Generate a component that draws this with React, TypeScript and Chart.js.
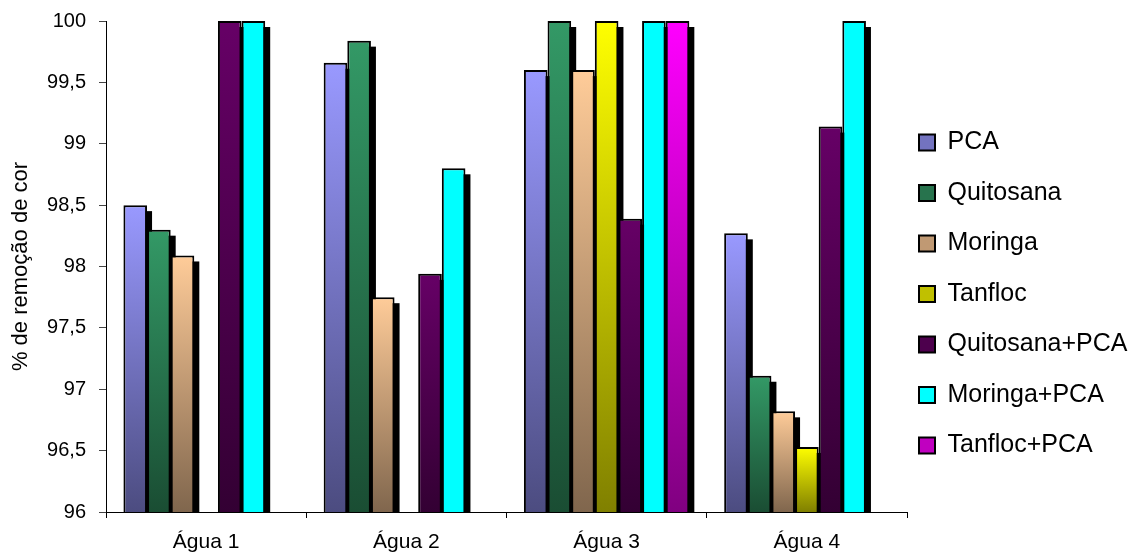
import React, { useEffect, useRef } from 'react';
import { Chart, registerables } from 'chart.js';

Chart.register(...registerables);

// ---------- data ----------
const categories = ['Água 1', 'Água 2', 'Água 3', 'Água 4'];
const seriesNames = ['PCA', 'Quitosana', 'Moringa', 'Tanfloc', 'Quitosana+PCA', 'Moringa+PCA', 'Tanfloc+PCA'];
const pca = [98.5, 99.66, 99.6, 98.27];
const quitosana = [98.3, 99.84, 100, 97.11];
const moringa = [98.09, 97.75, 99.6, 96.82];
const tanfloc = [null, null, 100, 96.53];
const quitosanaPca = [100, 97.94, 98.39, 99.14];
const moringaPca = [100, 98.8, 100, 100];
const tanflocPca = [null, null, 100, null];
const seriesValues = [pca, quitosana, moringa, tanfloc, quitosanaPca, moringaPca, tanflocPca];

const Y_MIN = 96;
const Y_MAX = 100;
const Y_STEP = 0.5;

// ---------- styles ----------
const topColors = ['#9999FF', '#339966', '#FFCC99', '#FFFF00', '#660066', '#00FFFF', '#FF00FF'];
const bottomColors = ['#4C4C80', '#1A4D33', '#80664D', '#808000', '#330033', '#00FFFF', '#800080'];
const legendColors = ['#7373C0', '#27734D', '#C09973', '#C0C000', '#4D004D', '#00FFFF', '#C000C0'];
const FONT = "'Liberation Sans', Arial, Helvetica, sans-serif";
const SHADOW_DX = 5;
const SHADOW_DY = 6;
const LEGEND_BOX_X = 919;
const LEGEND_FIRST_TOP = 130;

function gradientFor(i: number) {
  return (c: any) => {
    const chart = c.chart;
    const area = chart.chartArea;
    if (c.type !== 'data' || !area || c.raw == null) return legendColors[i];
    const yScale = chart.scales.y;
    const top = yScale.getPixelForValue(c.raw);
    const bottom = yScale.getPixelForValue(Y_MIN);
    if (!isFinite(top) || !isFinite(bottom) || bottom <= top) return topColors[i];
    const g = chart.ctx.createLinearGradient(0, top, 0, bottom);
    g.addColorStop(0, topColors[i]);
    g.addColorStop(1, bottomColors[i]);
    return g;
  };
}

const shadowPlugin = {
  id: 'barShadow',
  beforeDatasetsDraw(chart: any) {
    const { ctx, chartArea } = chart;
    ctx.save();
    ctx.beginPath();
    ctx.rect(chartArea.left, chartArea.top, chartArea.right - chartArea.left + 10, chartArea.bottom - chartArea.top);
    ctx.clip();
    ctx.fillStyle = '#000';
    chart.data.datasets.forEach((ds: any, di: number) => {
      const meta = chart.getDatasetMeta(di);
      if (meta.hidden) return;
      meta.data.forEach((el: any, i: number) => {
        if (ds.data[i] == null) return;
        const { x, y, base, width } = el.getProps(['x', 'y', 'base', 'width'], true);
        ctx.fillRect(x - width / 2 + SHADOW_DX, y + SHADOW_DY, width, base - y - SHADOW_DY);
      });
    });
    ctx.restore();
  },
};

const legendPlacePlugin = {
  id: 'legendPlace',
  afterLayout(chart: any) {
    const lg = chart.legend;
    if (!lg) return;
    const pad = lg.options.labels.padding;
    const h = lg.height;
    lg.left = LEGEND_BOX_X - pad;
    lg.right = chart.width;
    lg.width = lg.right - lg.left;
    lg.top = LEGEND_FIRST_TOP - pad;
    lg.bottom = lg.top + h;
  },
};

export default function App() {
  const ref = useRef<HTMLCanvasElement>(null);
  useEffect(() => {
    if (!ref.current) return;
    const chart = new Chart(ref.current, {
      type: 'bar',
      data: {
        labels: categories,
        datasets: seriesNames.map((name, i) => ({
          label: name,
          data: seriesValues[i],
          backgroundColor: gradientFor(i),
          borderColor: '#000',
          borderWidth: 2,
          categoryPercentage: 0.826,
          barPercentage: 1,
        })),
      },
      options: {
        animation: false,
        responsive: true,
        maintainAspectRatio: false,
        devicePixelRatio: 1,
        layout: { padding: { top: 21, left: 0, right: 0, bottom: 0 } },
        plugins: {
          tooltip: { enabled: false },
          legend: {
            position: 'right',
            align: 'start',
            maxWidth: 227,
            labels: {
              color: '#000',
              font: { family: FONT, size: 25 },
              boxWidth: 16,
              boxHeight: 16,
              padding: 25.5,
              generateLabels: (chart: any) =>
                (Chart.defaults.plugins.legend.labels.generateLabels as any)(chart).map((it: any, i: number) => ({
                  ...it,
                  fillStyle: legendColors[i],
                  strokeStyle: '#000',
                  lineWidth: 2,
                })),
            },
          },
        },
        scales: {
          x: {
            grid: { offset: true, drawOnChartArea: false, drawTicks: true, tickLength: 6, tickColor: '#000' },
            border: { display: true, color: '#000', width: 1 },
            ticks: { color: '#000', font: { family: FONT, size: 21 }, padding: 12 },
            afterFit: (s: any) => { s.height = 44; },
          },
          y: {
            min: Y_MIN,
            max: Y_MAX,
            ticks: {
              stepSize: Y_STEP,
              color: '#000',
              font: { family: FONT, size: 20 },
              padding: 13,
              callback: (v: any) => String(v).replace('.', ','),
            },
            grid: { drawOnChartArea: false, drawTicks: true, tickLength: 7, tickColor: '#444' },
            border: { display: true, color: '#000', width: 1 },
            title: {
              display: true,
              text: '% de remoção de cor',
              color: '#000',
              font: { family: FONT, size: 22 },
              padding: { top: 8, bottom: 0 },
            },
            afterFit: (s: any) => {
              s.width = 106;
              s.paddingTop = 12;
              s.paddingBottom = 12;
            },
          },
        },
      } as any,
      plugins: [shadowPlugin, legendPlacePlugin],
    });
    return () => chart.destroy();
  }, []);
  return (
    <div style={{ position: 'fixed', left: 0, top: 0, width: 1134, height: 556, background: '#fff' }}>
      <canvas ref={ref} />
    </div>
  );
}
